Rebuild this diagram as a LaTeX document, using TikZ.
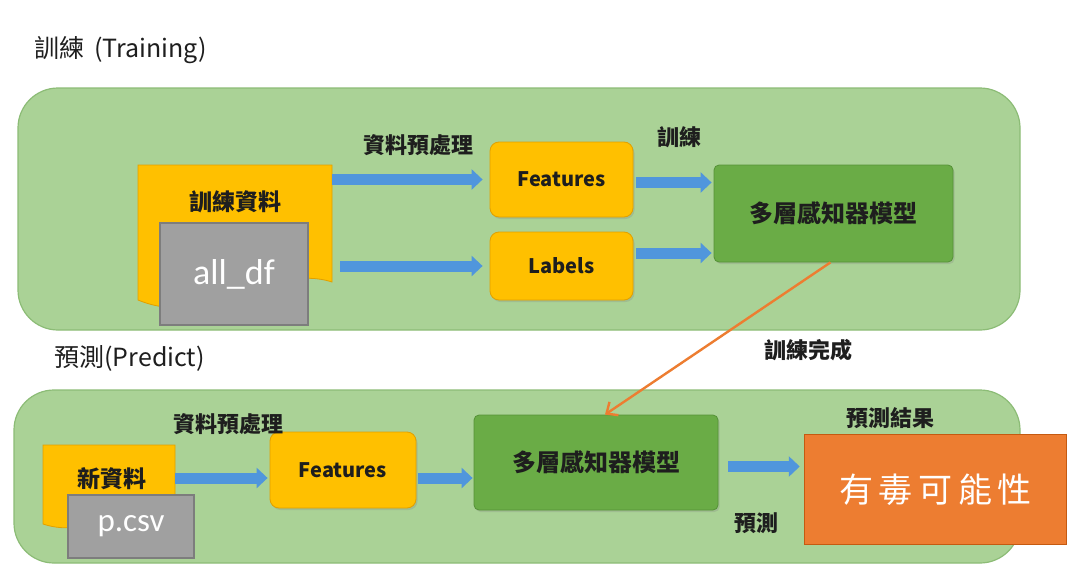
\documentclass[tikz,border=0pt]{standalone}
\usepackage{fontspec}
\newfontfamily\cjk{Noto Sans CJK TC}
\newfontfamily\calib{Carlito}
\usetikzlibrary{arrows.meta,shadows,calc}
\definecolor{cgreen}{RGB}{170,210,150}
\definecolor{cgreenD}{RGB}{140,188,118}
\definecolor{amber}{RGB}{255,192,0}
\definecolor{amberD}{RGB}{225,160,0}
\definecolor{mgreen}{RGB}{106,172,70}
\definecolor{mgreenD}{RGB}{85,145,55}
\definecolor{gbox}{RGB}{160,160,160}
\definecolor{gboxD}{RGB}{125,125,125}
\definecolor{barr}{RGB}{80,150,220}
\definecolor{oran}{RGB}{237,125,49}
\definecolor{oranD}{RGB}{197,90,17}
\definecolor{txt}{RGB}{30,30,30}
\begin{document}
\begin{tikzpicture}[x=1pt,y=-1pt,
  container/.style={rounded corners=40pt, fill=cgreen, draw=cgreenD, line width=1.2pt},
  ambox/.style={rounded corners=9pt, fill=amber, draw=amberD, line width=0.8pt,
     font=\cjk\bfseries\fontsize{20}{23}\selectfont, text=txt,
     drop shadow={shadow xshift=1.5pt, shadow yshift=-2pt, opacity=0.25}},
  mbox/.style={rounded corners=5pt, fill=mgreen, draw=mgreenD, line width=0.8pt,
     font=\cjk\bfseries\fontsize{24}{28}\selectfont, text=txt,
     drop shadow={shadow xshift=1.5pt, shadow yshift=-2pt, opacity=0.25}},
  gray/.style={fill=gbox, draw=gboxD, line width=1.5pt, text=white, inner sep=0pt},
  docfill/.style={fill=amber, draw=amberD, line width=0.8pt},
  doclbl/.style={font=\cjk\bfseries\fontsize{23}{26}\selectfont, text=txt},
  lbl/.style={font=\cjk\bfseries\fontsize{22}{26}\selectfont, text=txt},
  ttl/.style={font=\cjk\fontsize{25}{30}\selectfont, text=txt, anchor=west},
  barrow/.style={draw=barr, line width=11pt, -{Triangle[width=20pt,length=11pt]}},
  oarrow/.style={draw=oran, line width=2.4pt, -{Straight Barb[width=16pt,length=9pt]}}
]
\useasboundingbox (0,0) rectangle (1068,565);
\fill[white] (0,0) rectangle (1068,565);

% containers
\draw[container] (18,88) rectangle (1020,330);
\draw[container] (14,390) rectangle (1020,563);

% titles
\node[ttl] (t1) at (31,50) {訓練 \,(Training)};
\node[ttl] (t2) at (51,358) {預測(Predict)};

% training data document
\node[minimum width=194pt, minimum height=140pt, inner sep=0pt] (train) at (235,235) {};
\draw[docfill] (138,165) -- (332,165) -- (332,282)
   .. controls (270,262) and (210,330) .. (138,300) -- cycle;
\node[doclbl] (trainlbl) at (235,202) {訓練資料};
\node[gray, minimum width=148pt, minimum height=102pt, font=\calib\fontsize{36}{40}\selectfont] (alldf) at (234,274) {all\_df};

% top boxes
\node[ambox, minimum width=143pt, minimum height=75pt] (feat1) at (561.5,179.5) {Features};
\node[ambox, minimum width=143pt, minimum height=68pt] (lab1) at (561.5,266) {Labels};
\node[mbox, minimum width=239pt, minimum height=97pt] (model1) at (833.5,213.5) {多層感知器模型};

% top arrows
\draw[barrow, shorten >=7pt] (train.east |- feat1.west) -- (feat1.west);
\draw[barrow, shorten <=8pt, shorten >=7pt] (train.east |- lab1.west) -- (lab1.west);
\draw[barrow, shorten <=3pt, shorten >=2pt] ([yshift=-3pt]feat1.east) -- ([yshift=-3pt]feat1.east -| model1.west);
\draw[barrow, shorten <=3pt, shorten >=2pt] ([yshift=13pt]lab1.east) -- ([yshift=13pt]lab1.east -| model1.west);

\node[lbl] (pre1) at (418,145) {資料預處理};
\node[lbl] (tr1) at (679,137) {訓練};

% new data document
\node[minimum width=132pt, minimum height=80pt, inner sep=0pt] (newdoc) at (109,485) {};
\draw[docfill] (43,445) -- (175,445) -- (175,512)
   .. controls (135,500) and (90,540) .. (43,524) -- cycle;
\node[doclbl] (newlbl) at (112,479) {新資料};
\node[gray, minimum width=126pt, minimum height=63pt, font=\calib\fontsize{33}{38}\selectfont] (pcsv) at (131,526.5) {p.csv};

% bottom boxes
\node[ambox, minimum width=146pt, minimum height=76pt] (feat2) at (343,470) {Features};
\node[mbox, minimum width=244pt, minimum height=95pt] (model2) at (596,462.5) {多層感知器模型};
\node[fill=oran, draw=oranD, line width=1.5pt, minimum width=262pt, minimum height=110pt,
      font=\cjk\fontsize{34}{40}\selectfont, text=white] (out) at (935.5,489.5) {有\,毒\,可\,能\,性};

% training done
\draw[oarrow] ([xshift=-3pt]model1.south) -- ([xshift=9pt]model2.north);
\node[lbl] (done) at (808,350) {訓練完成};

% bottom arrows
\draw[barrow, shorten >=2pt] ([yshift=7pt]newdoc.east) -- ([yshift=-8pt]feat2.west);
\draw[barrow, shorten <=2pt, shorten >=1pt] ([yshift=-8pt]feat2.east) -- ([yshift=-8pt]feat2.east -| model2.west);
\draw[barrow, shorten <=10pt, shorten >=4pt] ([yshift=-4pt]model2.east) -- ([yshift=-4pt]model2.east -| out.west);

\node[lbl] (pre2) at (228,424) {資料預處理};
\node[lbl] (res) at (890,418) {預測結果};
\node[lbl] (pred) at (756,523) {預測};
\end{tikzpicture}
\end{document}
